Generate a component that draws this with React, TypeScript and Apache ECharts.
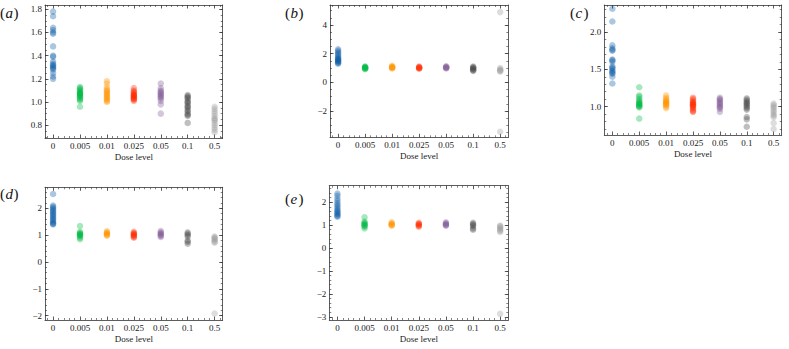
import React, { useEffect, useRef } from 'react';
import * as echarts from 'echarts';

// ---------- data ----------
const categories = ['0', '0.005', '0.01', '0.025', '0.05', '0.1', '0.5'];
const groupColors = ['#0C5DA5', '#00B945', '#FF9500', '#FF2C00', '#845B97', '#474747', '#9E9E9E'];
const xAxisTitle = 'Dose level';
const panelLetters = ['a', 'b', 'c', 'd', 'e'];

const panelA: number[][] = [
  [1.78, 1.74, 1.64, 1.62, 1.6, 1.59, 1.48, 1.4, 1.39, 1.35, 1.33, 1.32, 1.31, 1.3, 1.29, 1.28, 1.25, 1.22, 1.2],
  [1.13, 1.12, 1.11, 1.1, 1.09, 1.08, 1.08, 1.07, 1.07, 1.06, 1.05, 1.05, 1.04, 1.03, 1.02, 1.01, 0.96],
  [1.18, 1.16, 1.13, 1.11, 1.1, 1.09, 1.08, 1.07, 1.06, 1.05, 1.04, 1.03, 1.02, 1.01, 1.0],
  [1.12, 1.1, 1.09, 1.08, 1.07, 1.06, 1.06, 1.05, 1.05, 1.04, 1.03, 1.03, 1.02, 1.01],
  [1.16, 1.12, 1.1, 1.09, 1.08, 1.07, 1.06, 1.05, 1.04, 1.03, 1.01, 0.98, 0.9],
  [1.06, 1.05, 1.04, 1.03, 1.01, 1.0, 0.99, 0.97, 0.96, 0.95, 0.93, 0.92, 0.9, 0.89, 0.88, 0.82],
  [0.96, 0.94, 0.92, 0.9, 0.88, 0.86, 0.85, 0.84, 0.82, 0.8, 0.78, 0.76, 0.74],
];
const panelB: number[][] = [
  [2.3, 2.2, 2.1, 2.0, 1.9, 1.8, 1.7, 1.65, 1.6, 1.55, 1.5, 1.45, 1.4, 1.35, 1.3],
  [1.1, 1.08, 1.05, 1.03, 1.0, 0.98, 0.95, 0.92],
  [1.15, 1.1, 1.07, 1.05, 1.02, 1.0, 0.97],
  [1.1, 1.06, 1.03, 1.0, 0.98, 0.95],
  [1.12, 1.08, 1.05, 1.02, 1.0, 0.97],
  [1.1, 1.05, 1.0, 0.95, 0.9, 0.85, 0.8],
  [4.9, 1.0, 0.9, 0.85, 0.8, 0.75, -3.45],
];
const panelC: number[][] = [
  [2.31, 2.14, 1.82, 1.78, 1.76, 1.75, 1.63, 1.62, 1.6, 1.54, 1.52, 1.51, 1.48, 1.47, 1.45, 1.44, 1.4, 1.31],
  [1.26, 1.15, 1.13, 1.1, 1.08, 1.06, 1.05, 1.04, 1.03, 1.02, 1.01, 1.0, 0.99, 0.84],
  [1.15, 1.12, 1.1, 1.08, 1.07, 1.06, 1.05, 1.04, 1.03, 1.02, 1.0, 0.98],
  [1.12, 1.1, 1.08, 1.06, 1.05, 1.04, 1.03, 1.02, 1.01, 1.0, 0.98, 0.96, 0.94, 0.93],
  [1.12, 1.1, 1.09, 1.07, 1.05, 1.04, 1.02, 1.0, 0.99, 0.97, 0.93],
  [1.11, 1.09, 1.07, 1.05, 1.04, 1.02, 1.0, 0.98, 0.96, 0.86, 0.83, 0.73],
  [1.04, 1.02, 1.0, 0.98, 0.95, 0.93, 0.9, 0.88, 0.86, 0.78, 0.7],
];
const panelD: number[][] = [
  [2.53, 2.1, 2.05, 2.0, 1.95, 1.9, 1.85, 1.8, 1.75, 1.7, 1.65, 1.6, 1.55, 1.5, 1.45, 1.42, 1.4],
  [1.34, 1.12, 1.08, 1.05, 1.03, 1.01, 0.99, 0.96, 0.9, 0.85],
  [1.15, 1.1, 1.08, 1.05, 1.03, 1.0, 0.98],
  [1.12, 1.08, 1.05, 1.02, 1.0, 0.97, 0.93, 0.9],
  [1.15, 1.1, 1.07, 1.04, 1.0, 0.97, 0.93],
  [1.1, 1.05, 1.0, 0.95, 0.8, 0.75, 0.68],
  [0.95, 0.92, 0.88, 0.85, 0.8, 0.75, 0.72, -1.92],
];
const panelE: number[][] = [
  [2.38, 2.28, 2.15, 2.05, 1.95, 1.88, 1.8, 1.72, 1.65, 1.6, 1.55, 1.5, 1.45, 1.4, 1.37],
  [1.34, 1.15, 1.1, 1.06, 1.03, 1.0, 0.97, 0.93, 0.85],
  [1.12, 1.08, 1.05, 1.02, 1.0, 0.97],
  [1.1, 1.06, 1.03, 1.0, 0.97, 0.93],
  [1.12, 1.08, 1.05, 1.02, 1.0, 0.97],
  [1.1, 1.05, 1.0, 0.95, 0.85, 0.8],
  [0.98, 0.95, 0.9, 0.85, 0.8, 0.75, 0.7, -2.87],
];

const yTicksA = [0.8, 1.0, 1.2, 1.4, 1.6, 1.8];
const yTicksB = [-2, 0, 2, 4];
const yTicksC = [1.0, 1.5, 2.0];
const yTicksD = [-2, -1, 0, 1, 2];
const yTicksE = [-3, -2, -1, 0, 1, 2];

const panelData = [panelA, panelB, panelC, panelD, panelE];
const panelTicks = [yTicksA, yTicksB, yTicksC, yTicksD, yTicksE];

// ---------- layout / style ----------
const layout = [
  { left: 45, top: 5, width: 177.7, height: 133, yMin: 0.69, yMax: 1.837, minor: 0.05, dec: 1, lx: 0, ly: 13 },
  { left: 330, top: 5, width: 178.3, height: 132.3, yMin: -3.835, yMax: 5.395, minor: 0.5, dec: 0, lx: 285, ly: 13 },
  { left: 604.3, top: 5, width: 177.4, height: 130, yMin: 0.62, yMax: 2.361, minor: 0.1, dec: 1, lx: 570, ly: 13 },
  { left: 45, top: 187.3, width: 177.7, height: 132.7, yMin: -2.16, yMax: 2.78, minor: 0.2, dec: 0, lx: 0, ly: 194 },
  { left: 329.3, top: 185.7, width: 179, height: 134.3, yMin: -3.14, yMax: 2.72, minor: 0.2, dec: 0, lx: 285, ly: 199 },
];

const FRAME = '#333333';
const TEXT = '#222222';
const FONT = 'Liberation Serif';
const X_MIN = -0.3;
const X_MAX = 6.3;

function fmt(v: number, dec: number) {
  return v.toFixed(dec).replace('-', '\u2212');
}

function buildOption() {
  const grid: any[] = [];
  const xAxis: any[] = [];
  const yAxis: any[] = [];
  const series: any[] = [];
  const graphic: any[] = [];

  const xMajor = categories.map((_, i) => i);
  const xMinor: number[] = [];
  for (let j = -1; j < categories.length; j++) {
    for (let m = 1; m <= 4; m++) {
      const v = Math.round((j + m * 0.2) * 100) / 100;
      if (v > X_MIN && v < X_MAX) xMinor.push(v);
    }
  }

  layout.forEach((L, i) => {
    grid.push({ left: L.left, top: L.top, width: L.width, height: L.height, containLabel: false, outerBoundsMode: 'none', show: false });

    const line = { show: true, onZero: false, lineStyle: { color: FRAME, width: 0.8 } };
    const noLine = { show: false, onZero: false };
    const major = (vals: number[]) => ({ show: true, inside: true, length: 3.5, customValues: vals, lineStyle: { color: FRAME, width: 0.8 } });
    const minor = (vals: number[]) => ({ show: true, inside: true, length: 2, customValues: vals, lineStyle: { color: FRAME, width: 0.6 } });
    const common = { gridIndex: i, type: 'value', splitLine: { show: false } };

    const xCommon = { ...common, min: X_MIN, max: X_MAX };
    xAxis.push({
      ...xCommon, position: 'bottom', axisLine: line, axisTick: major(xMajor),
      axisLabel: { show: true, customValues: xMajor, formatter: (v: number) => categories[Math.round(v)], fontFamily: FONT, fontSize: 9, color: TEXT, margin: 3 },
      name: xAxisTitle, nameLocation: 'middle', nameGap: 14,
      nameTextStyle: { fontFamily: FONT, fontSize: 9, color: TEXT },
    });
    xAxis.push({ ...xCommon, position: 'top', axisLine: line, axisTick: major(xMajor), axisLabel: { show: false } });
    xAxis.push({ ...xCommon, position: 'bottom', axisLine: noLine, axisTick: minor(xMinor), axisLabel: { show: false } });
    xAxis.push({ ...xCommon, position: 'top', axisLine: noLine, axisTick: minor(xMinor), axisLabel: { show: false } });

    const yMajor = panelTicks[i];
    const yMinor: number[] = [];
    const kStart = Math.ceil(L.yMin / L.minor - 1e-9);
    const kEnd = Math.floor(L.yMax / L.minor + 1e-9);
    for (let k = kStart; k <= kEnd; k++) yMinor.push(Math.round(k * L.minor * 1000) / 1000);

    const yCommon = { ...common, min: L.yMin, max: L.yMax };
    yAxis.push({
      ...yCommon, position: 'left', axisLine: line, axisTick: major(yMajor),
      axisLabel: { show: true, customValues: yMajor, formatter: (v: number) => fmt(v, L.dec), fontFamily: FONT, fontSize: 9, color: TEXT, margin: 3 },
    });
    yAxis.push({ ...yCommon, position: 'right', axisLine: line, axisTick: major(yMajor), axisLabel: { show: false } });
    yAxis.push({ ...yCommon, position: 'left', axisLine: noLine, axisTick: minor(yMinor), axisLabel: { show: false } });
    yAxis.push({ ...yCommon, position: 'right', axisLine: noLine, axisTick: minor(yMinor), axisLabel: { show: false } });

    panelData[i].forEach((vals, g) => {
      series.push({
        type: 'scatter',
        name: `${panelLetters[i]}-${categories[g]}`,
        xAxisIndex: i * 4,
        yAxisIndex: i * 4,
        symbol: 'circle',
        symbolSize: 6.5,
        silent: true,
        itemStyle: { color: groupColors[g], opacity: 0.35 },
        data: vals.map((v) => [g, v]),
      });
    });

    // panel label: upright parentheses, italic letter
    graphic.push({
      type: 'group',
      left: L.lx,
      top: L.ly - 8,
      silent: true,
      children: [
        { type: 'text', x: 0, y: 0, style: { text: '(', font: `normal 15px ${FONT}`, fill: '#111', textVerticalAlign: 'top' } },
        { type: 'text', x: 5.5, y: 0, style: { text: panelLetters[i], font: `italic 15px ${FONT}`, fill: '#111', textVerticalAlign: 'top' } },
        { type: 'text', x: 13.5, y: 0, style: { text: ')', font: `normal 15px ${FONT}`, fill: '#111', textVerticalAlign: 'top' } },
      ],
    });
  });

  return {
    animation: false,
    backgroundColor: '#ffffff',
    grid,
    xAxis,
    yAxis,
    series,
    graphic,
  };
}

export default function App() {
  const ref = useRef<HTMLDivElement>(null);
  useEffect(() => {
    if (!ref.current) return;
    const chart = echarts.init(ref.current, undefined, { renderer: 'svg' });
    chart.setOption(buildOption() as any);
    return () => chart.dispose();
  }, []);
  return (
    <div
      ref={ref}
      style={{ position: 'fixed', left: 0, top: 0, width: 789, height: 349, background: '#fff' }}
    />
  );
}
